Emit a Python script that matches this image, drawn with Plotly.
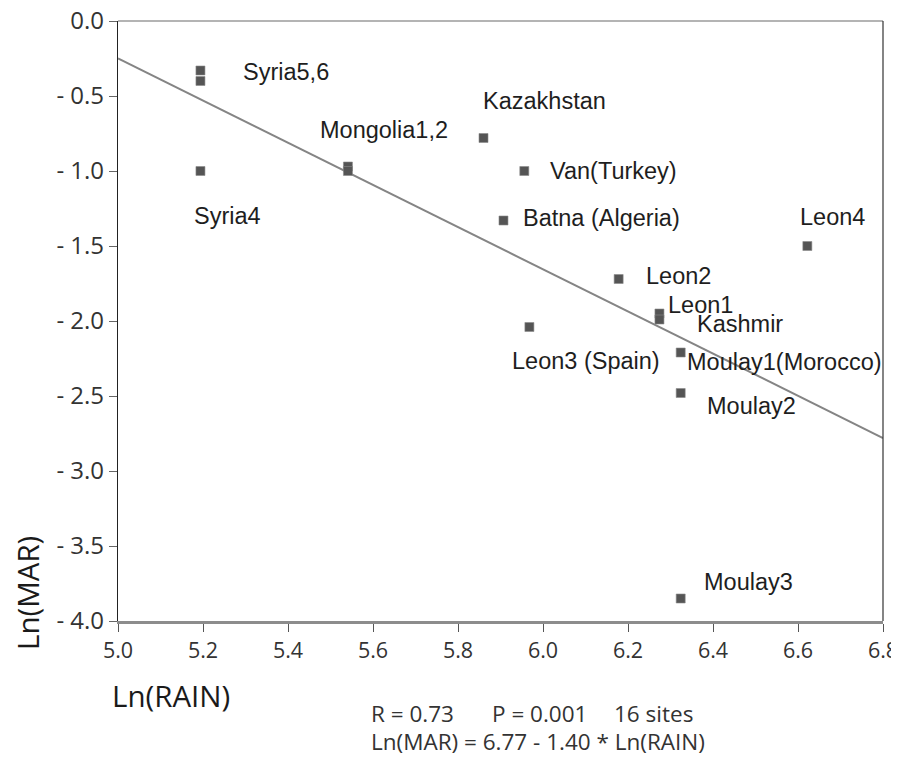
import plotly.graph_objects as go

# ---- data ----
site_names = ["Syria5", "Syria6", "Syria4", "Mongolia1", "Mongolia2", "Kazakhstan",
              "Van(Turkey)", "Batna (Algeria)", "Leon4", "Leon2", "Leon1", "Kashmir",
              "Leon3 (Spain)", "Moulay1(Morocco)", "Moulay2", "Moulay3"]
ln_rain = [5.194, 5.194, 5.194, 5.541, 5.541, 5.860,
           5.956, 5.907, 6.622, 6.178, 6.274, 6.274,
           5.968, 6.324, 6.324, 6.324]
ln_mar = [-0.33, -0.40, -1.00, -0.97, -1.00, -0.78,
          -1.00, -1.33, -1.50, -1.72, -1.95, -1.99,
          -2.04, -2.21, -2.48, -3.85]

# point labels: (text, index of anchor point, x offset px, y offset px)
label_texts = ["Syria5,6", "Mongolia1,2", "Kazakhstan", "Van(Turkey)", "Batna (Algeria)",
               "Syria4", "Leon4", "Leon2", "Leon1", "Kashmir", "Leon3 (Spain)",
               "Moulay1(Morocco)", "Moulay2", "Moulay3"]
label_anchor = [0, 3, 5, 6, 7, 2, 8, 9, 10, 11, 12, 13, 14, 15]
label_dx = [42, -29, -2, 25, 19, -7, -8, 26, 8, 37, -18, 5, 25, 22]
label_dy = [1, -37, -37, 0, -3, 45, -29, -3, -9, 4, 34, 9, 13, -17]

# regression line end points
fit_x = [5.0, 6.8]
fit_y = [-0.25, -2.78]

x_ticks = [5.0, 5.2, 5.4, 5.6, 5.8, 6.0, 6.2, 6.4, 6.6, 6.8]
x_ticktext = ["5.0", "5.2", "5.4", "5.6", "5.8", "6.0", "6.2", "6.4", "6.6", "6.8"]
y_ticks = [0.0, -0.5, -1.0, -1.5, -2.0, -2.5, -3.0, -3.5, -4.0]
y_ticktext = ["0.0", "- 0.5", "- 1.0", "- 1.5", "- 2.0", "- 2.5", "- 3.0", "- 3.5", "- 4.0"]

stats_texts = ["R = 0.73", "P = 0.001", "16 sites"]
equation_text = "Ln(MAR) = 6.77 - 1.40 * Ln(RAIN)"

# ---- layout geometry (pixels) ----
# the page body has an 8px default margin, so the figure is offset to match
OFF = 8
W, H = 899, 760 - OFF
L, R, T, B = 118 - OFF, 24, 21 - OFF, 139
PW, PH = W - L - R, H - T - B


def px(xp):
    return (xp - OFF - L) / PW


def py(yp):
    return (H - B - (yp - OFF)) / PH


fig = go.Figure()

fig.add_trace(go.Scatter(
    x=fit_x, y=fit_y, mode="lines",
    line=dict(color="#858585", width=2),
    hoverinfo="skip", showlegend=False, cliponaxis=True,
))

fig.add_trace(go.Scatter(
    x=ln_rain, y=ln_mar, mode="markers", text=site_names,
    marker=dict(symbol="square", size=9, color="#555555",
                line=dict(color="#8a8a8a", width=0.6)),
    showlegend=False, cliponaxis=False,
))

label_font = dict(family="Liberation Sans, Arial, sans-serif", size=23.5, color="#1e1e1e")
for txt, idx, dx, dy in zip(label_texts, label_anchor, label_dx, label_dy):
    fig.add_annotation(
        x=ln_rain[idx], y=ln_mar[idx], xref="x", yref="y",
        text=txt, showarrow=False, xanchor="left", yanchor="middle",
        xshift=dx, yshift=-dy, font=label_font, borderpad=0,
    )

# axis titles as free annotations
title_font = dict(family="Open Sans, sans-serif", size=29.5, color="#1a1a1a")
fig.add_annotation(xref="paper", yref="paper", x=px(27), y=py(593), text="Ln(MAR)",
                   textangle=-90, showarrow=False, xanchor="center", yanchor="middle",
                   font=title_font)
fig.add_annotation(xref="paper", yref="paper", x=px(110), y=py(695), text="Ln(RAIN)",
                   showarrow=False, xanchor="left", yanchor="middle", font=title_font)

stat_font = dict(family="Open Sans, sans-serif", size=22.5, color="#333333")
for txt, xp in zip(stats_texts, [370, 491, 613]):
    fig.add_annotation(xref="paper", yref="paper", x=px(xp), y=py(713), text=txt,
                       showarrow=False, xanchor="left", yanchor="middle", font=stat_font,
                       borderpad=0)
fig.add_annotation(xref="paper", yref="paper", x=px(370), y=py(741), text=equation_text,
                   showarrow=False, xanchor="left", yanchor="middle", font=stat_font,
                   borderpad=0)

# frame: top and right borders
fig.add_shape(type="line", xref="paper", yref="paper", x0=0, x1=1, y0=1, y1=1,
              line=dict(color="#6a6a6a", width=1.2))
fig.add_shape(type="line", xref="paper", yref="paper", x0=1, x1=1, y0=0, y1=1,
              line=dict(color="#333333", width=1.2))

fig.update_xaxes(
    range=[5.0, 6.8], tickvals=x_ticks, ticktext=x_ticktext,
    showgrid=False, zeroline=False, showline=True, linecolor="#8c8c8c", linewidth=2.5,
    ticks="outside", ticklen=8, tickcolor="#555555", tickwidth=1,
    tickfont=dict(family="Open Sans, sans-serif", size=21.5, color="#333333"),
    automargin=False, ticklabeloverflow="allow",
)
fig.update_yaxes(
    range=[-4.0, 0.0], tickvals=y_ticks, ticktext=y_ticktext,
    showgrid=False, zeroline=False, showline=True, linecolor="#222222", linewidth=1.2,
    ticks="outside", ticklen=8, tickcolor="#666666", tickwidth=1,
    tickfont=dict(family="Open Sans, sans-serif", size=24, color="#333333"),
    automargin=False, ticklabeloverflow="allow",
)

fig.update_layout(
    width=W, height=H,
    margin=dict(l=L, r=R, t=T, b=B, autoexpand=False),
    paper_bgcolor="white", plot_bgcolor="white",
)

fig.write_html("out.html")
